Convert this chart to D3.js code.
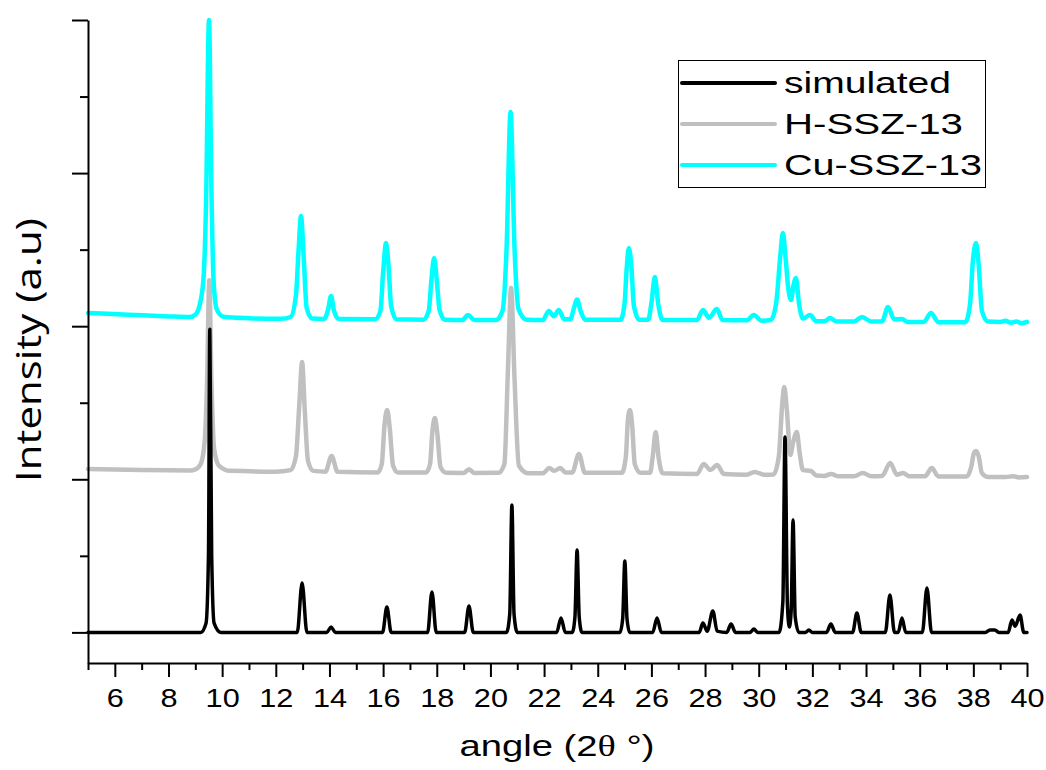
<!DOCTYPE html>
<html><head><meta charset="utf-8">
<script src="https://cdn.jsdelivr.net/npm/d3@7/dist/d3.min.js"></script>
<style>body{margin:0;background:#fff}</style>
</head><body>
<svg id="chart" width="1046" height="770"></svg>
<script>
// ---- data ----
const seriesNames = ["simulated", "H-SSZ-13", "Cu-SSZ-13"];
const xTickLabels = [6, 8, 10, 12, 14, 16, 18, 20, 22, 24, 26, 28, 30, 32, 34, 36, 38, 40];
const xMinorTicks = [5, 7, 9, 11, 13, 15, 17, 19, 21, 23, 25, 27, 29, 31, 33, 35, 37, 39];
const yMajorTicks = [0, 1000, 2000, 3000, 4000];
const yMinorTicks = [500, 1500, 2500, 3500];

// [angle 2θ, intensity a.u.]
const simulated = [
  [5,0],[9.2,0],[9.4,60],[9.49,500],[9.54,1980],[9.61,500],[9.7,60],[9.95,0],
  [12.8,0],[12.98,323],[13.16,0],
  [13.9,0],[14.06,35],[14.22,0],
  [15.98,0],[16.14,166],[16.3,0],
  [17.66,0],[17.82,264],[17.98,0],
  [19.04,0],[19.2,172],[19.36,0],
  [20.6,0],[20.72,120],[20.8,832],[20.88,120],[21.0,0],
  [22.47,0],[22.63,94],[22.79,0],
  [23.05,0],[23.15,100],[23.23,538],[23.31,100],[23.41,0],
  [24.83,0],[24.93,90],[25.01,466],[25.09,90],[25.19,0],
  [26.05,0],[26.21,94],[26.37,0],
  [27.78,0],[27.92,61],[28.08,8],[28.29,140],[28.45,8],
  [28.81,0],[28.97,55],[29.13,0],
  [29.68,0],[29.82,22],[29.96,0],
  [30.76,0],[30.9,200],[30.98,1276],[31.07,180],[31.14,35],[31.21,140],[31.28,734],[31.36,100],[31.5,0],
  [31.75,0],[31.87,16],[31.99,0],
  [32.53,0],[32.69,55],[32.85,0],
  [33.5,0],[33.66,127],[33.82,0],
  [34.72,0],[34.89,244],[35.06,0],
  [35.2,0],[35.34,94],[35.48,0],
  [36.1,0],[36.27,290],[36.44,0],
  [38.45,0],[38.62,16],[38.8,16],[38.95,0],
  [39.3,0],[39.44,81],[39.56,40],[39.74,114],[39.88,0],[40,0]
];

const hSSZ13 = [
  [5,1067],[7,1060],[8.8,1058],
  [9.0,1065],[9.2,1100],[9.35,1250],[9.44,1650],[9.52,2300],[9.6,1650],[9.7,1200],[9.88,1090],[10.3,1055],
  [12.0,1050],[12.55,1060],[12.75,1150],[12.88,1500],[12.98,1766],[13.08,1450],[13.2,1120],[13.4,1055],
  [13.85,1050],[14.08,1152],[14.3,1050],
  [15.8,1045],[15.95,1100],[16.05,1350],[16.15,1453],[16.25,1330],[16.37,1090],[16.55,1045],
  [17.6,1045],[17.75,1100],[17.84,1320],[17.93,1400],[18.02,1300],[18.14,1080],[18.35,1042],
  [19.0,1041],[19.2,1065],[19.4,1041],
  [20.3,1042],[20.52,1100],[20.65,1700],[20.77,2250],[20.9,1650],[21.06,1090],[21.4,1040],
  [21.95,1040],[22.2,1073],[22.38,1055],[22.6,1073],[22.8,1045],
  [23.05,1045],[23.3,1165],[23.52,1042],
  [24.9,1042],[25.05,1150],[25.12,1380],[25.2,1453],[25.28,1360],[25.38,1100],[25.6,1042],
  [25.95,1042],[26.05,1150],[26.16,1309],[26.27,1140],[26.42,1040],
  [27.7,1035],[27.95,1100],[28.2,1060],[28.45,1093],[28.7,1035],
  [29.55,1030],[29.85,1048],[30.2,1030],
  [30.55,1032],[30.75,1150],[30.88,1500],[30.95,1603],[31.05,1450],[31.18,1160],[31.28,1240],[31.42,1309],[31.52,1180],[31.65,1060],[31.95,1054],[32.15,1025],
  [32.45,1022],[32.7,1035],[32.95,1020],
  [33.55,1020],[33.88,1041],[34.2,1020],
  [34.6,1022],[34.9,1107],[35.15,1030],[35.38,1041],[35.6,1020],
  [36.2,1020],[36.45,1073],[36.7,1018],
  [37.75,1018],[37.92,1080],[38.02,1170],[38.1,1185],[38.2,1150],[38.32,1040],[38.55,1015],
  [39.2,1015],[39.5,1020],[39.7,1012],[40,1015]
];

const cuSSZ13 = [
  [5,2086],[6.5,2075],[8,2064],[8.8,2060],
  [9.0,2075],[9.15,2130],[9.3,2300],[9.4,2800],[9.51,4000],[9.6,2900],[9.68,2300],[9.8,2110],[10.05,2062],[11,2052],[12.2,2048],
  [12.55,2060],[12.75,2200],[12.85,2500],[12.94,2720],[13.04,2450],[13.15,2120],[13.35,2050],
  [13.8,2047],[13.95,2110],[14.06,2197],[14.17,2100],[14.35,2047],
  [15.7,2045],[15.9,2100],[16.0,2350],[16.11,2544],[16.2,2400],[16.3,2130],[16.5,2045],
  [17.5,2042],[17.7,2100],[17.8,2300],[17.9,2446],[18.0,2300],[18.1,2110],[18.3,2042],
  [18.95,2040],[19.16,2073],[19.4,2040],
  [20.2,2040],[20.45,2100],[20.6,2500],[20.75,3399],[20.9,2500],[21.05,2110],[21.35,2042],
  [21.95,2040],[22.18,2099],[22.36,2065],[22.55,2106],[22.75,2045],
  [22.98,2045],[23.1,2110],[23.23,2175],[23.36,2100],[23.55,2042],
  [24.85,2042],[25.0,2150],[25.08,2380],[25.16,2511],[25.25,2400],[25.35,2130],[25.55,2042],
  [25.88,2042],[26.0,2150],[26.13,2321],[26.25,2150],[26.42,2040],
  [27.7,2040],[27.92,2106],[28.15,2055],[28.44,2112],[28.65,2040],
  [29.55,2038],[29.82,2073],[30.1,2036],
  [30.45,2040],[30.65,2150],[30.8,2450],[30.9,2609],[31.0,2450],[31.1,2250],[31.2,2171],[31.3,2270],[31.39,2315],[31.5,2150],[31.65,2050],[31.91,2073],[32.15,2032],
  [32.45,2032],[32.66,2054],[32.9,2030],
  [33.55,2030],[33.85,2060],[34.2,2030],
  [34.6,2032],[34.82,2126],[35.05,2045],[35.34,2047],[35.55,2028],
  [36.15,2028],[36.42,2086],[36.7,2026],
  [37.7,2026],[37.88,2150],[37.98,2420],[38.1,2544],[38.2,2400],[38.32,2100],[38.55,2030],
  [39.0,2028],[39.2,2035],[39.4,2022],[39.6,2030],[39.8,2020],[40,2028]
];

// ---- styles ----
const style = {
  colors: {"simulated": "#000000", "H-SSZ-13": "#c0c0c0", "Cu-SSZ-13": "#00ffff"},
  widths: {"simulated": 3.5, "H-SSZ-13": 4.5, "Cu-SSZ-13": 4.5}
};
const seriesData = {"simulated": simulated, "H-SSZ-13": hSSZ13, "Cu-SSZ-13": cuSSZ13};

const svg = d3.select("#chart");
const x = d3.scaleLinear().domain([5, 40]).range([88, 1027]);
const y = d3.scaleLinear().domain([-200, 4000]).range([663, 20]);

// series (draw gray, cyan, black)
const line = d3.line().x(d => x(d[0])).y(d => y(d[1])).curve(d3.curveMonotoneX);
["H-SSZ-13", "Cu-SSZ-13", "simulated"].forEach(name => {
  svg.append("path")
    .datum(seriesData[name])
    .attr("d", line)
    .attr("fill", "none")
    .attr("stroke", style.colors[name])
    .attr("stroke-width", style.widths[name])
    .attr("stroke-linejoin", "round")
    .attr("stroke-linecap", "round");
});

// axes
const axisFont = "'Liberation Sans', Arial, sans-serif";
const xMajor = svg.append("g").attr("transform", `translate(0,${y.range()[0]})`)
  .call(d3.axisBottom(x).tickValues(xTickLabels).tickSize(14).tickSizeOuter(0).tickFormat(d3.format("d")));
const xMinor = svg.append("g").attr("transform", `translate(0,${y.range()[0]})`)
  .call(d3.axisBottom(x).tickValues(xMinorTicks).tickSize(7).tickSizeOuter(0).tickFormat(""));
xMinor.select(".domain").remove();
const yMajor = svg.append("g").attr("transform", `translate(${x.range()[0]},0)`)
  .call(d3.axisLeft(y).tickValues(yMajorTicks).tickSize(16).tickSizeOuter(0).tickFormat(""));
const yMinor = svg.append("g").attr("transform", `translate(${x.range()[0]},0)`)
  .call(d3.axisLeft(y).tickValues(yMinorTicks).tickSize(8).tickSizeOuter(0).tickFormat(""));
yMinor.select(".domain").remove();

svg.selectAll(".domain").attr("stroke", "#000").attr("stroke-width", 2);
svg.selectAll(".tick line").attr("stroke", "#000").attr("stroke-width", 2);
xMajor.selectAll(".tick text")
  .attr("dy", null).attr("y", 44)
  .attr("font-family", axisFont).attr("font-size", 26).attr("fill", "#000")
  .attr("transform", "scale(1.18,1)");

// axis titles
const xt = svg.append("text")
  .attr("x", 557).attr("y", 756)
  .attr("text-anchor", "middle")
  .attr("font-family", axisFont).attr("font-size", 30).attr("fill", "#000")
  .attr("textLength", 195).attr("lengthAdjust", "spacingAndGlyphs");
xt.append("tspan").text("angle (2");
xt.append("tspan").attr("font-family", "'Liberation Serif', 'Times New Roman', serif").text("θ");
xt.append("tspan").text(" °)");

svg.append("text")
  .attr("transform", "translate(41,350) rotate(-90)")
  .attr("text-anchor", "middle")
  .attr("font-family", "'Open Sans', 'Liberation Sans', sans-serif").attr("font-size", 35).attr("fill", "#000")
  .attr("textLength", 264).attr("lengthAdjust", "spacingAndGlyphs")
  .text("Intensity (a.u)");

// legend
const legend = svg.append("g");
legend.append("rect").attr("x", 678.5).attr("y", 60.5).attr("width", 307).attr("height", 127)
  .attr("fill", "#fff").attr("stroke", "#000").attr("stroke-width", 1);
const legendRows = [83, 124, 165];
const legendTextLen = [167, 179, 198];
seriesNames.forEach((name, i) => {
  legend.append("line")
    .attr("x1", 682).attr("x2", 775).attr("y1", legendRows[i]).attr("y2", legendRows[i])
    .attr("stroke", style.colors[name]).attr("stroke-width", 4).attr("stroke-linecap", "round");
  legend.append("text")
    .attr("x", 784).attr("y", legendRows[i] + 10)
    .attr("font-family", axisFont).attr("font-size", 29).attr("fill", "#000")
    .attr("textLength", legendTextLen[i]).attr("lengthAdjust", "spacingAndGlyphs")
    .text(name);
});
</script>
</body></html>
